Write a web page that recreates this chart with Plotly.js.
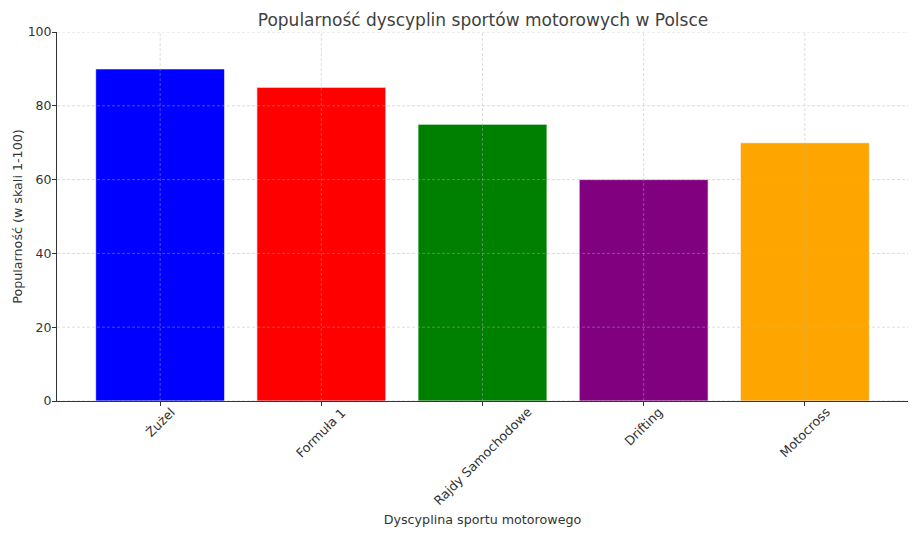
<!DOCTYPE html>
<html>
<head>
<meta charset="utf-8">
<script src="https://cdn.plot.ly/plotly-3.0.1.min.js"></script>
<style>
  html, body { margin: 0; padding: 0; background: #fff; }
  #chart { width: 920px; height: 537px; }
</style>
</head>
<body>
<div id="chart"></div>
<script>
const categories = ["Żużel", "Formuła 1", "Rajdy Samochodowe", "Drifting", "Motocross"];
const popularity = [90, 85, 75, 60, 70];
const barColors = ["#0000ff", "#ff0000", "#008000", "#800080", "#ffa500"];
const yTicks = [0, 20, 40, 60, 80, 100];

const textColor = "#333333";
const gridColor = "rgba(176,176,176,0.55)";
const font = "DejaVu Sans, sans-serif";

const idx = categories.map((c, i) => i);

// matplotlib style: grid drawn over the bars
let shapes = [];
yTicks.forEach((t) => {
  shapes.push({
    type: "line", layer: "above", xref: "paper", yref: "y",
    x0: 0, x1: 1, y0: t, y1: t,
    line: { color: gridColor, width: 0.8, dash: "3px,2px" },
  });
});
idx.forEach((i) => {
  shapes.push({
    type: "line", layer: "above", xref: "x", yref: "paper",
    x0: i, x1: i, y0: 0, y1: 1,
    line: { color: gridColor, width: 0.8, dash: "3px,2px" },
  });
});

// rotated tick labels centred under each tick, like ha="center"
let annotations = categories.map((c, i) => ({
  x: i, y: 0, xref: "x", yref: "y",
  text: c, showarrow: false,
  textangle: -45, xanchor: "center", yanchor: "top", yshift: -1,
  font: { family: font, size: 12.7, color: textColor },
}));

Plotly.newPlot(
  "chart",
  [
    {
      type: "bar",
      x: idx,
      y: popularity,
      width: 0.8,
      marker: { color: barColors, line: { color: "rgba(255,255,255,0.7)", width: 1 } },
      hoverinfo: "skip",
    },
  ],
  {
    width: 920,
    height: 537,
    margin: { l: 57, r: 12, t: 32, b: 136 },
    paper_bgcolor: "#fff",
    plot_bgcolor: "#fff",
    font: { family: font, size: 12.5, color: textColor },
    showlegend: false,
    title: {
      text: "Popularność dyscyplin sportów motorowych w Polsce",
      font: { family: font, size: 17, color: "#404040" },
      x: 0.525, xanchor: "center",
      y: 0.962, yanchor: "middle",
    },
    xaxis: {
      range: [-0.64, 4.64],
      tickvals: idx,
      showticklabels: false,
      ticks: "outside", ticklen: 4, tickcolor: textColor,
      showgrid: false, zeroline: false,
      showline: true, linecolor: textColor, linewidth: 1,
      title: {
        text: "Dyscyplina sportu motorowego",
        font: { family: font, size: 12.7, color: textColor },
        standoff: 110,
      },
    },
    yaxis: {
      range: [0, 100],
      tickvals: yTicks,
      ticks: "outside", ticklen: 4, tickcolor: textColor,
      ticklabelstandoff: -2,
      tickfont: { family: font, size: 12.5, color: textColor },
      showgrid: false, zeroline: false,
      showline: true, linecolor: textColor, linewidth: 1,
      title: {
        text: "Popularność (w skali 1-100)",
        font: { family: font, size: 12.7, color: textColor },
      },
    },
    shapes: shapes,
    annotations: annotations,
  },
  { displayModeBar: false, staticPlot: true }
);
</script>
</body>
</html>
